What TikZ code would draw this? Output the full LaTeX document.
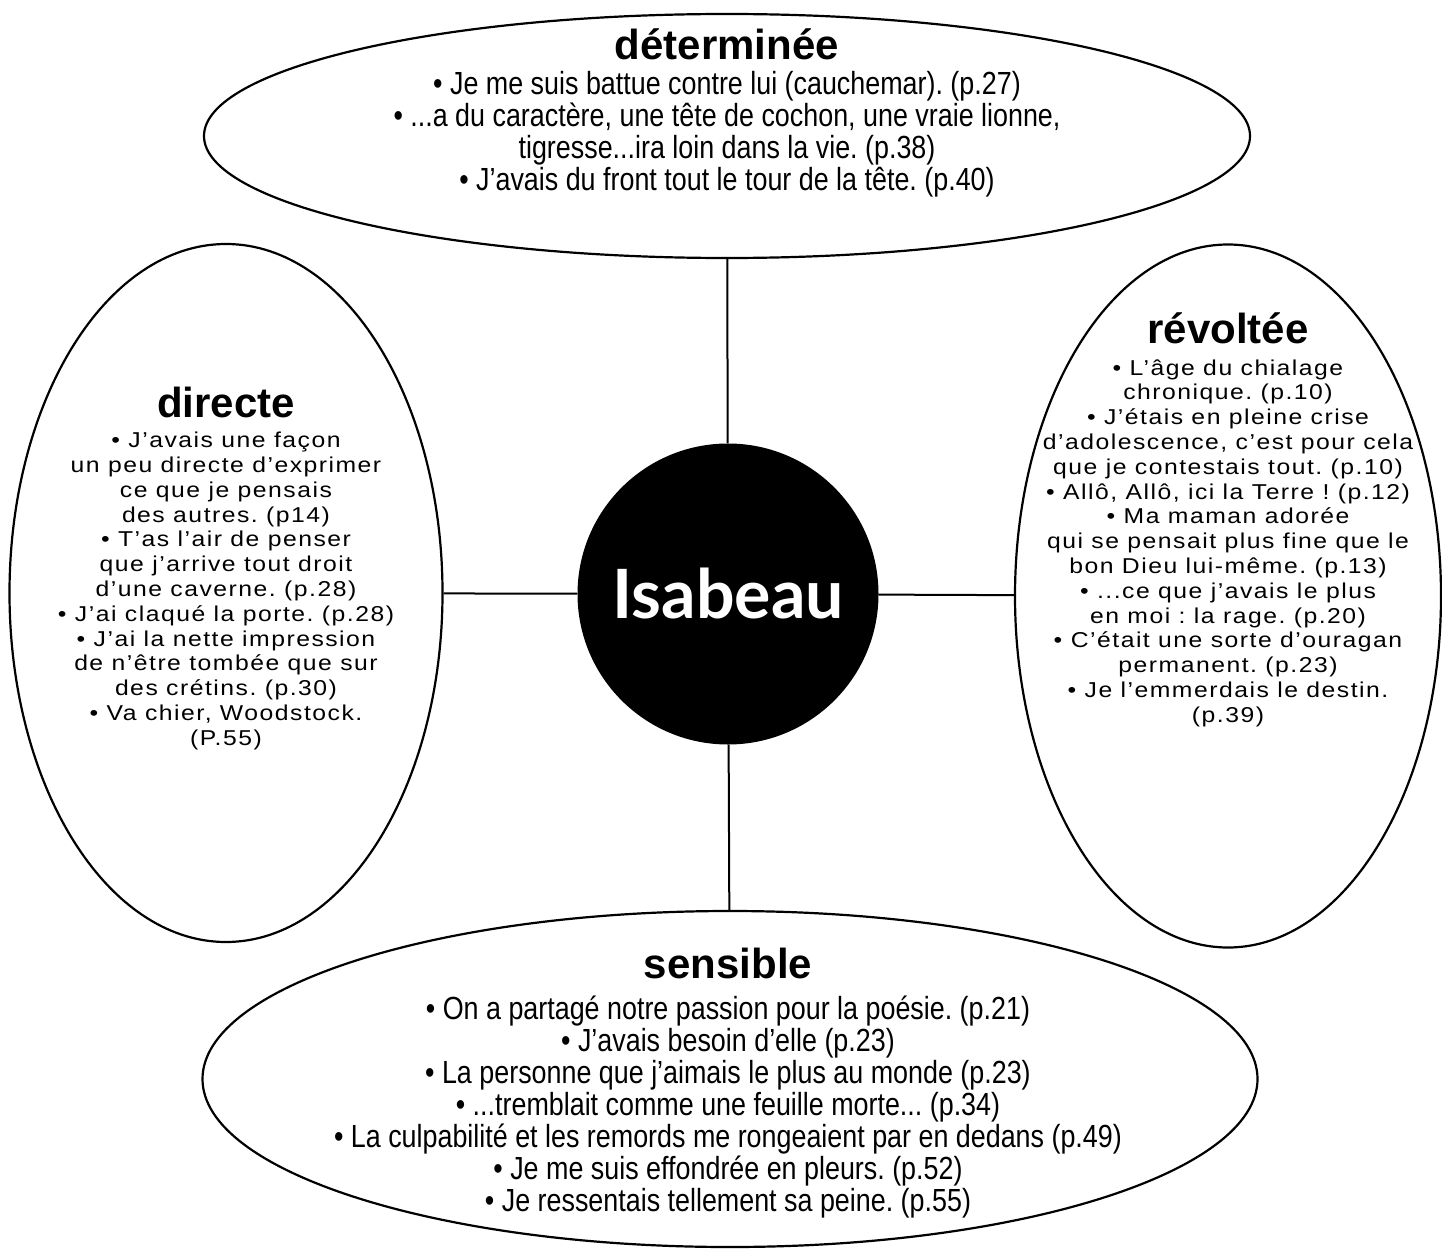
\documentclass[tikz,border=0pt]{standalone}
\usepackage{fontspec}
\setmainfont{Liberation Sans}
\newfontfamily\narrowfont[FakeStretch=0.84]{Liberation Sans}
\newfontfamily\widefont[FakeStretch=1.15,LetterSpace=7]{Liberation Sans}
\newfontfamily\namefont{Lato}
\usetikzlibrary{shapes.geometric}
\frenchspacing

\tikzset{
  trait/.style={draw, line width=2.2pt, ellipse, inner sep=0pt},
  heading/.style={anchor=center, font=\fontsize{42}{46}\selectfont\bfseries},
  narrowtext/.style={anchor=center, align=center, font=\narrowfont\fontsize{32}{32}\selectfont},
  widetext/.style={anchor=center, align=center, font=\widefont\fontsize{21.5}{24.8}\selectfont},
  link/.style={line width=2pt}
}

\begin{document}
\begin{tikzpicture}[x=1pt, y=-1pt]
        \useasboundingbox (0,0) rectangle (1442,1249);

        % Center
        \node[circle, fill=black, inner sep=0pt, minimum size=301pt, text=white,
              font=\namefont\bfseries\fontsize{68}{70}\selectfont] (isa) at (728,594) {Isabeau};

        % Outer ellipses
        \node[trait, minimum width=1046pt, minimum height=244pt] (det) at (727,136) {};
        \node[trait, minimum width=433pt, minimum height=698pt] (dir) at (226,593) {};
        \node[trait, minimum width=426pt, minimum height=703pt] (rev) at (1228,596) {};
        \node[trait, minimum width=1055pt, minimum height=336pt] (sen) at (730,1079) {};

        % déterminée
        \node[heading] (dethead) at (727,44) {déterminée};
        \node[narrowtext] (dettext) at (727,134) {• Je me suis battue contre lui (cauchemar). (p.27)\\
            • ...a du caractère, une tête de cochon, une vraie lionne,\\
            tigresse...ira loin dans la vie. (p.38)\\
            • J’avais du front tout le tour de la tête. (p.40)};

        % directe
        \node[heading] (dirhead) at (226,402) {directe};
        \node[widetext] (dirtext) at (226,591) {• J’avais une façon\\
            un peu directe d’exprimer\\
            ce que je pensais\\
            des autres. (p14)\\
            • T’as l’air de penser\\
            que j’arrive tout droit\\
            d’une caverne. (p.28)\\
            • J’ai claqué la porte. (p.28)\\
            • J’ai la nette impression\\
            de n’être tombée que sur\\
            des crétins. (p.30)\\
            • Va chier, Woodstock.\\
            (P.55)};

        % révoltée
        \node[heading] (revhead) at (1228,328) {révoltée};
        \node[widetext] (revtext) at (1228,543) {• L’âge du chialage\\
            chronique. (p.10)\\
            • J’étais en pleine crise\\
            d’adolescence, c’est pour cela\\
            que je contestais tout. (p.10)\\
            • Allô, Allô, ici la Terre ! (p.12)\\
            • Ma maman adorée\\
            qui se pensait plus fine que le\\
            bon Dieu lui-même. (p.13)\\
            • ...ce que j’avais le plus\\
            en moi : la rage. (p.20)\\
            • C’était une sorte d’ouragan\\
            permanent. (p.23)\\
            • Je l’emmerdais le destin.\\
            (p.39)};

        % sensible
        \node[heading] (senhead) at (728,963) {sensible};
        \node[narrowtext] (sentext) at (728,1107) {• On a partagé notre passion pour la poésie. (p.21)\\
            • J’avais besoin d’elle (p.23)\\
            • La personne que j’aimais le plus au monde (p.23)\\
            • ...tremblait comme une feuille morte... (p.34)\\
            • La culpabilité et les remords me rongeaient par en dedans (p.49)\\
            • Je me suis effondrée en pleurs. (p.52)\\
            • Je ressentais tellement sa peine. (p.55)};

        % Links to the center
        \draw[link] (det) -- (isa);
        \draw[link] (dir) -- (isa);
        \draw[link] (rev) -- (isa);
        \draw[link] (sen) -- (isa);
    \end{tikzpicture}
\end{document}
